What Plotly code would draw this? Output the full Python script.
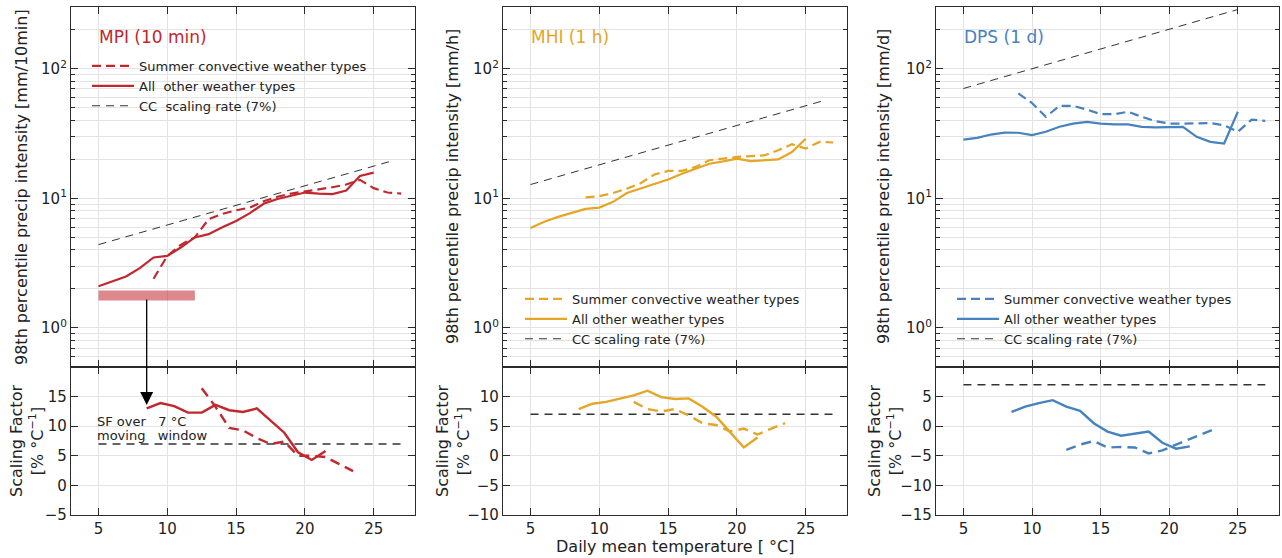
import plotly.graph_objects as go

# ---------------- data ----------------
t_other = [5, 6, 7, 8, 9, 10, 11, 12, 13, 14, 15, 16, 17, 18, 19, 20, 21, 22, 23, 24, 25]
t_summer = [9, 10, 11, 12, 13, 14, 15, 16, 17, 18, 19, 20, 21, 22, 23, 24, 25, 26, 27]

mpi_other = [2.1, 2.3, 2.5, 2.9, 3.5, 3.6, 4.2, 5.0, 5.3, 6.0, 6.7, 7.7, 9.1, 9.9, 10.5, 11.1, 10.9, 10.8, 11.5, 14.9, 15.8]
mpi_summer = [2.4, 3.6, 4.4, 5.0, 6.9, 7.6, 8.1, 8.5, 9.5, 10.3, 10.9, 11.3, 11.7, 12.2, 12.8, 13.9, 12.0, 11.1, 10.9]
mhi_other = [5.9, 6.6, 7.2, 7.7, 8.3, 8.5, 9.4, 11.0, 11.9, 13.0, 14.0, 15.5, 17.0, 18.5, 19.3, 20.3, 19.4, 19.7, 20.0, 22.8, 28.9]
mhi_summer = [10.2, 10.4, 11.0, 11.9, 13.1, 15.3, 16.3, 16.3, 17.5, 19.7, 20.3, 20.9, 21.2, 21.5, 23.5, 26.2, 24.2, 27.3, 27.0]
dps_other = [28.4, 29.3, 31.1, 32.2, 32.1, 30.8, 32.7, 35.7, 37.8, 39.0, 37.8, 37.2, 37.2, 35.7, 35.3, 35.7, 35.7, 29.9, 27.3, 26.5, 46.6]
dps_summer = [64.6, 54.5, 42.6, 51.8, 51.8, 48.5, 44.7, 44.7, 46.6, 42.6, 39.5, 37.8, 37.8, 38.1, 38.1, 36.7, 32.7, 40.5, 39.7]

t_sf_other = [8.5, 9.5, 10.5, 11.5, 12.5, 13.5, 14.5, 15.5, 16.5, 17.5, 18.5, 19.5, 20.5, 21.5]
t_sf_summer = [12.5, 13.5, 14.5, 15.5, 16.5, 17.5, 18.5, 19.5, 20.5, 21.5, 22.5, 23.5]

mpi_sf_other = [13.0, 13.9, 13.4, 12.3, 12.3, 13.6, 12.7, 12.4, 13.0, 11.0, 8.9, 5.6, 4.3, 5.8]
mpi_sf_summer = [16.4, 13.3, 9.7, 9.3, 8.0, 7.0, 7.4, 5.0, 5.0, 4.8, 3.6, 2.4]
mhi_sf_other = [7.9, 8.8, 9.1, 9.6, 10.2, 11.0, 9.9, 9.6, 9.7, 8.3, 6.6, 4.0, 1.4, 3.1]
mhi_sf_summer = [9.1, 7.9, 7.5, 7.9, 6.8, 5.5, 5.2, 4.1, 4.6, 3.6, 4.6, 5.5]
dps_sf_other = [2.4, 3.3, 3.9, 4.4, 3.3, 2.6, 0.5, -0.9, -1.6, -1.2, -0.9, -2.8, -3.8, -3.4]
dps_sf_summer = [-4.0, -3.1, -2.5, -3.6, -3.5, -3.6, -4.6, -4.1, -3.1, -2.2, -1.2, -0.3]

cc_t_mpi = [5, 26.5]
cc_mpi = [4.4, 19.7]
cc_t_mhi = [5, 26.4]
cc_mhi = [12.8, 57.2]
cc_t_dps = [5, 25]
cc_dps = [70.5, 287]
cc_sf_t = [5, 27]
cc_sf = [7, 7]

window_t = [5, 12]
window_y = [1.78, 1.78]
arrow_t = 8.5
arrow_sf = 13.6

panel_titles = ["MPI (10 min)", "MHI (1 h)", "DPS (1 d)"]
top_ylabels = ["98th percentile precip intensity [mm/10min]",
               "98th percentile precip intensity [mm/h]",
               "98th percentile precip intensity [mm/d]"]
log_major = [1, 10, 100]
log_major_text = ["10<sup>0</sup>", "10<sup>1</sup>", "10<sup>2</sup>"]
log_minor = [0.5, 0.6, 0.7, 0.8, 0.9, 2, 3, 4, 5, 6, 7, 8, 9, 20, 30, 40, 50, 60, 70, 80, 90, 200, 300]
sf_ticks = [[-5, 0, 5, 10, 15], [-10, -5, 0, 5, 10], [-15, -10, -5, 0, 5]]
sf_ranges = [[-5, 20], [-10, 15], [-15, 10]]
x_ticks = [5, 10, 15, 20, 25]

# ---------------- style ----------------
W, H = 1282, 558
FONT = "DejaVu Sans"
RED, YEL, BLU = "#c1272d", "#e5a526", "#4682bf"
colors = [RED, YEL, BLU]
GRID = "#e3e3e3"
FRAME = "#2b2b2b"
cols_px = [(71, 415), (503, 847), (936, 1279)]
top_px = (7, 367)
bot_px = (367, 515)


def px(x):
    return x / W


def py(y):
    return 1 - y / H


fig = go.Figure()

series = [
    (t_other, mpi_other, t_summer, mpi_summer, cc_t_mpi, cc_mpi, mpi_sf_other, mpi_sf_summer),
    (t_other, mhi_other, t_summer, mhi_summer, cc_t_mhi, cc_mhi, mhi_sf_other, mhi_sf_summer),
    (t_other, dps_other, t_summer, dps_summer, cc_t_dps, cc_dps, dps_sf_other, dps_sf_summer),
]
legend_names = [
    ["Summer convective weather types", "All\u00a0 other weather types", "CC\u00a0 scaling rate (7%)"],
    ["Summer convective weather types", "All other weather types", "CC scaling rate (7%)"],
    ["Summer convective weather types", "All other weather types", "CC scaling rate (7%)"],
]
legend_ids = ["legend", "legend2", "legend3"]

for i, (to, vo, ts, vs, ct, cv, sfo, sfs) in enumerate(series):
    c = colors[i]
    xt, yt = "x%d" % (2 * i + 1), "y%d" % (2 * i + 1)
    xb, yb = "x%d" % (2 * i + 2), "y%d" % (2 * i + 2)
    xt = "x" if xt == "x1" else xt
    yt = "y" if yt == "y1" else yt
    lg = legend_ids[i]
    names = legend_names[i]
    fig.add_trace(go.Scatter(x=ts, y=vs, mode="lines", xaxis=xt, yaxis=yt, name=names[0], legend=lg,
                             line=dict(color=c, width=2.2, dash="9px,5px")))
    fig.add_trace(go.Scatter(x=to, y=vo, mode="lines", xaxis=xt, yaxis=yt, name=names[1], legend=lg,
                             line=dict(color=c, width=2.2)))
    fig.add_trace(go.Scatter(x=ct, y=cv, mode="lines", xaxis=xt, yaxis=yt, name=names[2], legend=lg,
                             line=dict(color="#333333", width=1.0, dash="8px,6px")))
    # bottom (scaling factor)
    fig.add_trace(go.Scatter(x=cc_sf_t, y=cc_sf, mode="lines", xaxis=xb, yaxis=yb, showlegend=False,
                             line=dict(color="#333333", width=1.5, dash="8px,6px")))
    fig.add_trace(go.Scatter(x=t_sf_summer, y=sfs, mode="lines", xaxis=xb, yaxis=yb, showlegend=False,
                             line=dict(color=c, width=2.4, dash="10px,6px")))
    fig.add_trace(go.Scatter(x=t_sf_other, y=sfo, mode="lines", xaxis=xb, yaxis=yb, showlegend=False,
                             line=dict(color=c, width=2.4)))

# moving-window bar in MPI panel
fig.add_trace(go.Scatter(x=window_t, y=window_y, mode="lines", xaxis="x", yaxis="y", showlegend=False,
                         line=dict(color="rgba(193,39,45,0.55)", width=10)))

axis_common = dict(showline=True, linecolor=FRAME, linewidth=1.3, mirror="ticks",
                   ticks="inside", tickcolor=FRAME, showgrid=True, gridcolor=GRID, gridwidth=1,
                   zeroline=False, automargin=False, tickfont=dict(family=FONT, size=15, color="#222"))

layout = dict(width=W, height=H, margin=dict(l=0, r=0, t=0, b=0, autoexpand=False),
              paper_bgcolor="white", plot_bgcolor="white",
              font=dict(family=FONT, color="#222"))

for i in range(3):
    x0, x1 = cols_px[i]
    dom_x = [px(x0), px(x1)]
    kt, kb = 2 * i + 1, 2 * i + 2
    nt = "" if kt == 1 else str(kt)
    nb = str(kb)
    layout["xaxis" + nt] = dict(axis_common, domain=dom_x, range=[3, 28], tickvals=x_ticks,
                                showticklabels=False, ticklen=7, anchor="y" + nt)
    layout["yaxis" + nt] = dict(axis_common, domain=[py(top_px[1]), py(top_px[0])], type="log",
                                range=[-0.30103, 2.4771], tickvals=log_major, ticktext=log_major_text,
                                ticklen=7, anchor="x" + nt,
                                minor=dict(tickvals=log_minor, ticks="inside", ticklen=4,
                                           tickcolor=FRAME, showgrid=True, gridcolor=GRID, gridwidth=1))
    layout["xaxis" + nb] = dict(axis_common, domain=dom_x, range=[3, 28], tickvals=x_ticks,
                                ticklen=7, anchor="y" + nb)
    layout["yaxis" + nb] = dict(axis_common, domain=[py(bot_px[1]), py(bot_px[0])],
                                range=sf_ranges[i], tickvals=sf_ticks[i],
                                ticktext=[str(v).replace("-", "\u2212") for v in sf_ticks[i]],
                                ticklen=7, anchor="x" + nb)

legend_common = dict(bgcolor="rgba(0,0,0,0)", borderwidth=0, font=dict(family=FONT, size=13, color="#222"),
                     xanchor="left", yanchor="top", itemwidth=42, tracegroupgap=0, traceorder="normal")
layout["legend"] = dict(legend_common, x=px(87), y=py(51))
layout["legend2"] = dict(legend_common, x=px(520), y=py(284))
layout["legend3"] = dict(legend_common, x=px(952), y=py(284))

annotations = []
title_x = [97, 529, 962]
ylab_x = [21, 452, 883]
sf_x = [27, 453, 885]
for i in range(3):
    annotations.append(dict(text=panel_titles[i], x=px(title_x[i]), y=py(37), xref="paper", yref="paper",
                            xanchor="left", yanchor="middle", showarrow=False,
                            font=dict(family=FONT, size=17, color=colors[i])))
    annotations.append(dict(text=top_ylabels[i], x=px(ylab_x[i]), y=py(187), xref="paper", yref="paper",
                            xanchor="center", yanchor="middle", textangle=-90, showarrow=False,
                            font=dict(family=FONT, size=16, color="#222")))
    annotations.append(dict(text="Scaling Factor<br>[% °C<sup>\u22121</sup>]", x=px(sf_x[i]), y=py(441),
                            xref="paper", yref="paper", xanchor="center", yanchor="middle", textangle=-90,
                            showarrow=False, font=dict(family=FONT, size=16, color="#222")))

annotations.append(dict(text="Daily mean temperature [ °C]", x=px(675), y=py(546), xref="paper", yref="paper",
                        xanchor="center", yanchor="middle", showarrow=False,
                        font=dict(family=FONT, size=16, color="#222")))
annotations.append(dict(text="SF over\u00a0\u00a0 7 °C", x=px(95), y=py(421), xref="paper", yref="paper",
                        xanchor="left", yanchor="middle", showarrow=False,
                        font=dict(family=FONT, size=13, color="#222")))
annotations.append(dict(text="moving\u00a0\u00a0 window", x=px(95), y=py(435), xref="paper", yref="paper",
                        xanchor="left", yanchor="middle", showarrow=False,
                        font=dict(family=FONT, size=13, color="#222")))
annotations.append(dict(text="", x=arrow_t, y=arrow_sf, xref="x2", yref="y2", ax=0, ay=-107,
                        axref="pixel", ayref="pixel", showarrow=True, arrowhead=2, arrowsize=2.0,
                        arrowwidth=1.3, arrowcolor="black"))
layout["annotations"] = annotations

fig.update_layout(**layout)
fig.write_html("out.html", config={"displayModeBar": False},
               post_script="document.body.style.margin='0';")
